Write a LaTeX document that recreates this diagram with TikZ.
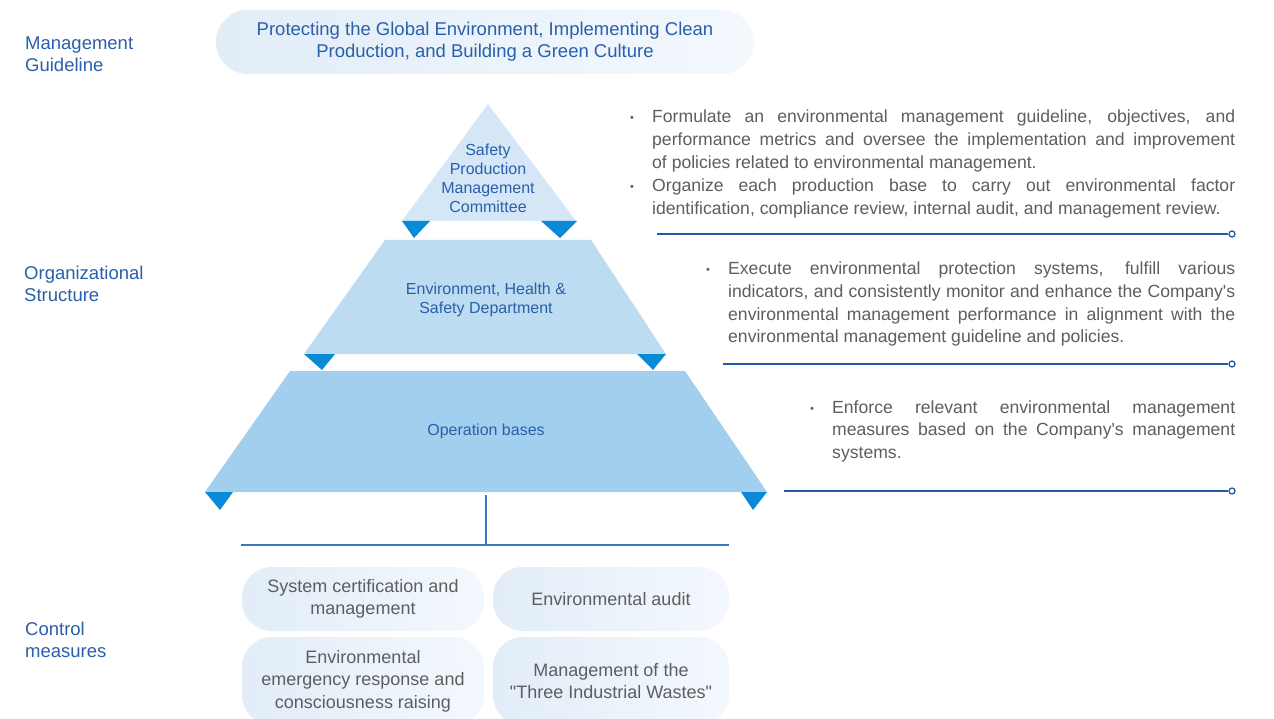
\documentclass[tikz,border=0pt]{standalone}
\usepackage{fontspec}
\setmainfont{Liberation Sans}
\usetikzlibrary{arrows.meta}

\definecolor{navy}{HTML}{2A5FAA}
\definecolor{rulecol}{HTML}{2458A8}
\definecolor{stemcol}{HTML}{3B78C0}
\definecolor{greytext}{HTML}{5E5E5E}
\definecolor{tierA}{HTML}{D5E7F7}
\definecolor{tierB}{HTML}{BDDCF2}
\definecolor{tierC}{HTML}{A3CFEE}
\definecolor{markercol}{HTML}{0A8AD6}
\definecolor{pillL}{HTML}{E2EDF8}
\definecolor{pillR}{HTML}{F3F8FD}

\newcommand\setfs[2]{\fontsize{#1}{#2}\selectfont}
\newcommand\nobreakwords{\hyphenpenalty=10000\relax\exhyphenpenalty=10000\relax\tolerance=10000\relax}
% straight quote glyphs, placed directly so no ligature mapping curls them
\newcommand\apos{\XeTeXglyph\the\XeTeXcharglyph"27\relax}
\newcommand\dquote{\XeTeXglyph\the\XeTeXcharglyph"22\relax}

\tikzset{
  sidelabel/.style={text=navy, font=\setfs{18.5}{22.5}, align=left, anchor=west, inner sep=0pt},
  tiertext/.style={text=navy, font=\setfs{16}{19}, align=center, inner sep=0pt},
  para/.style={text=greytext, text width=#1, anchor=base west, inner sep=0pt, align=justify,
    font=\setfs{17.6}{22.6}\nobreakwords},
  bul/.style={text=greytext, font=\setfs{11}{11}, anchor=base, inner sep=0pt},
  pill/.style={rounded corners=30pt, left color=pillL, right color=pillR, draw=none,
    align=center, text=greytext, font=\setfs{18}{22.5}, inner sep=0pt},
  guidepill/.style={rounded corners=32pt, left color=pillL, right color=pillR, draw=none,
    align=center, text=navy, font=\setfs{18.5}{22}, inner sep=0pt},
  rule/.style={draw=rulecol, line width=1.6pt},
  endcirc/.style={circle, draw=rulecol, fill=white, line width=1.3pt, minimum size=6pt, inner sep=0pt},
  stem/.style={draw=stemcol, line width=1.8pt},
  cornermark/.style={fill=markercol},
}

\begin{document}
\begin{tikzpicture}[x=1pt,y=-1pt]
\useasboundingbox (0,0) rectangle (1274,719);
\clip (0,0) rectangle (1274,719);
\fill[white] (0,0) rectangle (1274,719);

% row labels
\node[sidelabel] (lguide) at (25,54) {Management\\Guideline};
\node[sidelabel] (lorg) at (24,284) {Organizational\\Structure};
\node[sidelabel] (lctrl) at (25,640) {Control\\measures};

% guideline banner
\node[guidepill, minimum width=538pt, minimum height=64pt] (guide) at (485,42)
  {Protecting the Global Environment, Implementing Clean\\Production, and Building a Green Culture};

% pyramid tiers
\fill[tierA] (488,104) -- (576,221) -- (402,221) -- cycle;
\fill[tierB] (385,240) -- (591,240) -- (666,354) -- (304,354) -- cycle;
\fill[tierC] (290,371) -- (685,371) -- (767,492) -- (205,492) -- cycle;

% corner markers
\fill[cornermark] (402,221) -- (430,221) -- (414,238) -- cycle;
\fill[cornermark] (541,221) -- (577,221) -- (560,238) -- cycle;
\fill[cornermark] (304,354) -- (335,354) -- (322,370) -- cycle;
\fill[cornermark] (637,354) -- (666,354) -- (653,370) -- cycle;
\fill[cornermark] (205,492) -- (233,492) -- (220,510) -- cycle;
\fill[cornermark] (741,492) -- (767,492) -- (753,510) -- cycle;

% tier names
\node[tiertext] (committee) at (488,178) {Safety\\Production\\Management\\Committee};
\node[tiertext] (ehs) at (486,300) {Environment, Health \&\\Safety Department};
\node[tiertext] (bases) at (486,431) {Operation bases};

% responsibilities
\node[bul] (b1) at (632,122) {•};
\node[para=583pt] (t1) at (652,123) {Formulate an environmental management guideline, objectives, and\linebreak
  performance metrics and oversee the implementation and improvement\linebreak
  of policies related to environmental management.};
\node[bul] (b2) at (632,191) {•};
\node[para=583pt] (t2) at (652,192) {Organize each production base to carry out environmental factor\linebreak
  identification, compliance review, internal audit, and management review.};

\node[bul] (b3) at (708,274) {•};
\node[para=507pt] (t3) at (728,275) {Execute environmental protection systems, fulfill various\linebreak
  indicators, and consistently monitor and enhance the Company\apos s\linebreak
  environmental management performance in alignment with the\linebreak
  environmental management guideline and policies.};

\node[bul] (b4) at (812,412) {•};
\node[para=403pt] (t4) at (832,413) {Enforce relevant environmental management\linebreak
  measures based on the Company\apos s management\linebreak
  systems.};

% separator rules with end rings
\coordinate (r1s) at (657,234);
\coordinate (r2s) at (723,364);
\coordinate (r3s) at (784,491);
\node[endcirc] (r1e) at (1232,234) {};
\node[endcirc] (r2e) at (1232,364) {};
\node[endcirc] (r3e) at (1232,491) {};
\draw[rule] (r1s) -- (r1e);
\draw[rule] (r2s) -- (r2e);
\draw[rule] (r3s) -- (r3e);

% stem from the base tier to the control measures
\coordinate (stemtop) at (486,495);
\coordinate (stembot) at (486,545);
\coordinate (busL) at (241,545);
\coordinate (busR) at (729,545);
\draw[stem] (stemtop) -- (stembot);
\draw[stem] (busL) -- (busR);

% control measures
\node[pill, minimum width=242pt, minimum height=64pt] (c1) at (363,599)
  {System certification and\\management};
\node[pill, minimum width=236pt, minimum height=64pt] (c2) at (611,599)
  {Environmental audit};
\node[pill, minimum width=242pt, minimum height=88pt] (c3) at (363,681)
  {Environmental\\emergency response and\\consciousness raising};
\node[pill, minimum width=236pt, minimum height=88pt] (c4) at (611,681)
  {Management of the\\\dquote Three Industrial Wastes\dquote};
\end{tikzpicture}
\end{document}
